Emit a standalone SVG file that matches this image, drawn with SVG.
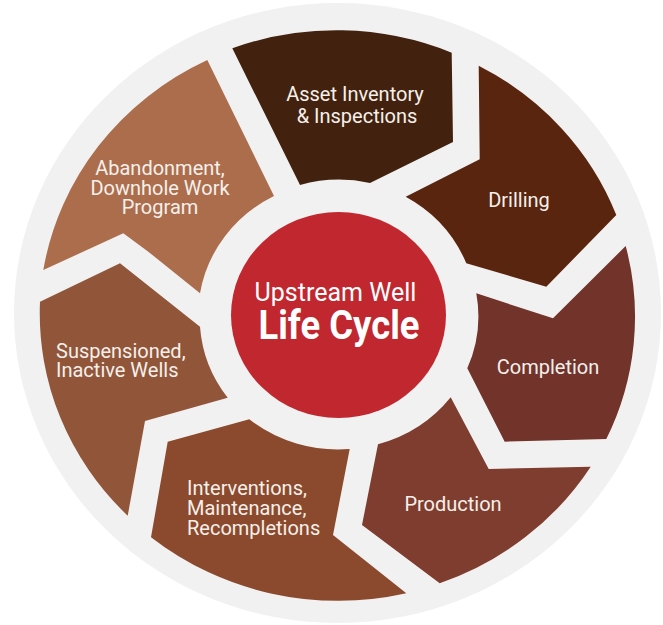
<svg xmlns="http://www.w3.org/2000/svg" width="663" height="625" viewBox="0 0 663 625">
  <style>
    .lbl { font-family: Roboto, "Liberation Sans", sans-serif; font-size: 20px; fill: #f6f0eb; }
    .mid { text-anchor: middle; }
    .title { font-family: Roboto, "Liberation Sans", sans-serif; fill: #ffffff; text-anchor: middle; }
  </style>
  <rect x="0" y="0" width="663" height="625" fill="#ffffff"/>
  <ellipse id="backdrop" cx="337.5" cy="313" rx="323.5" ry="310" fill="#f1f1f1"/>
  <g id="connectors"/>
  <g id="asset-inventory">
    <path d="M 232.3 48.3 A 296.5 284 0 0 1 451.7 52.7 L 453 142 L 370 183 A 140 134 0 0 0 300 185 Z" fill="#42220e"/>
    <text class="lbl mid" x="355" y="101">Asset Inventory</text>
    <text class="lbl mid" x="357" y="122.5">&amp; Inspections</text>
  </g>
  <g id="drilling">
    <path d="M 478.7 65.7 L 479.7 159.3 L 405.7 196.7 A 140 134 0 0 1 466.3 263.3 L 546.3 286.7 L 616.3 215 A 296.5 284 0 0 0 478.7 65.7 Z" fill="#5a250f"/>
    <text class="lbl mid" x="519" y="207">Drilling</text>
  </g>
  <g id="completion">
    <path d="M 476.3 293.3 L 553 318.3 L 625.7 246 A 297.5 285 0 0 1 606.3 439 L 504.7 441.7 L 467.3 368.3 A 140 134 0 0 0 476.3 293.3 Z" fill="#71332a"/>
    <text class="lbl mid" x="548" y="374">Completion</text>
  </g>
  <g id="production">
    <path d="M 378 444.3 A 140 134 0 0 0 450.7 397.3 L 488.7 469 L 590.7 466.7 A 297.5 285 0 0 1 439.7 583.3 L 362 525 Z" fill="#7e3d2e"/>
    <text class="lbl mid" x="453" y="510.5">Production</text>
  </g>
  <g id="interventions">
    <path d="M 167.7 441.7 L 249.3 419.3 A 140 134 0 0 0 349.7 449 L 333 535 L 406.3 593.3 A 297.5 285 0 0 1 151 537.3 Z" fill="#8b4a2d"/>
    <text class="lbl" x="187" y="495">Interventions,</text>
    <text class="lbl" x="187" y="515">Maintenance,</text>
    <text class="lbl" x="187" y="534.5">Recompletions</text>
  </g>
  <g id="suspensioned">
    <path d="M 40 301.7 L 120 263.3 L 200 326.7 A 140 134 0 0 0 227.7 397.7 L 145 421 L 127.7 515.7 A 297.5 285 0 0 1 40 301.7 Z" fill="#91553a"/>
    <text class="lbl" x="56" y="357.5">Suspensioned,</text>
    <text class="lbl" x="56" y="377">Inactive Wells</text>
  </g>
  <g id="abandonment">
    <path d="M 43.3 270 L 123.3 233.3 L 148.3 251.7 L 200 293.3 A 140 134 0 0 1 274 196 L 207.3 60 A 297.5 285 0 0 0 43.3 270 Z" fill="#ac6d4d"/>
    <text class="lbl mid" x="160" y="175">Abandonment,</text>
    <text class="lbl mid" x="160" y="194.5">Downhole Work</text>
    <text class="lbl mid" x="160" y="214">Program</text>
  </g>
  <g id="center">
    <ellipse cx="338.5" cy="315" rx="107.5" ry="103" fill="#c1272f"/>
    <text class="title" x="335.5" y="300.5" font-size="25">Upstream Well</text>
    <text class="title" x="339" y="338.5" font-size="41" font-weight="700" textLength="161" lengthAdjust="spacingAndGlyphs">Life Cycle</text>
  </g>
</svg>
